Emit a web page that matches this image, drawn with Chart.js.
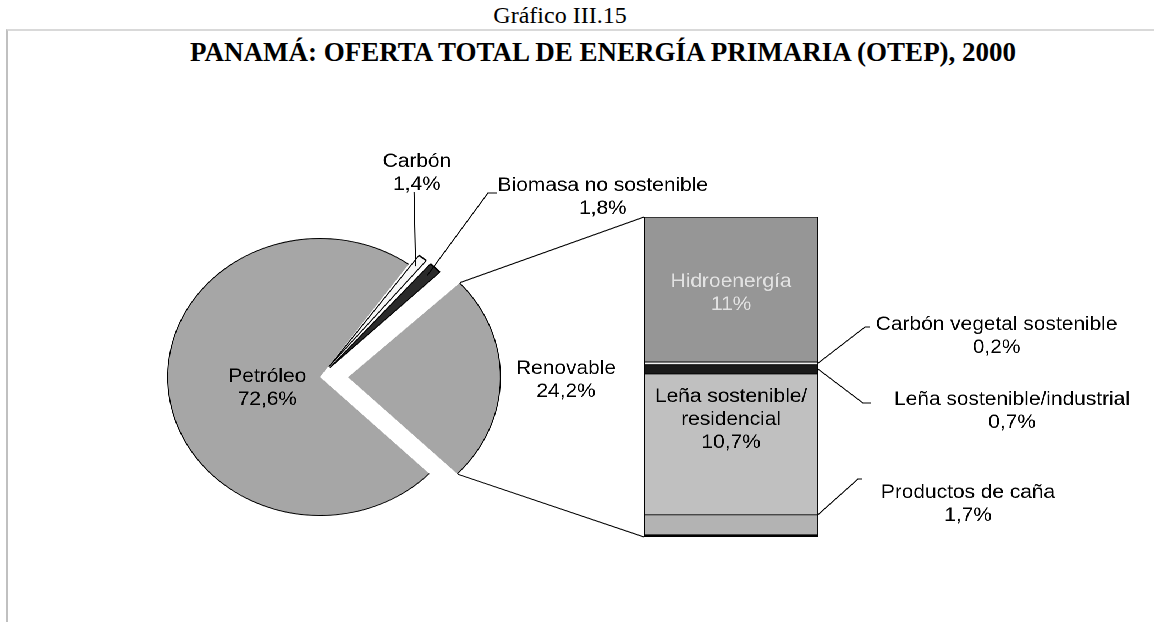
<!DOCTYPE html>
<html>
<head>
<meta charset="utf-8">
<script src="https://cdn.jsdelivr.net/npm/chart.js@4.4.0/dist/chart.umd.min.js"></script>
<style>
    html, body { margin: 0; padding: 0; background: #fff; }
    body { width: 1154px; height: 622px; position: relative; overflow: hidden; font-family: 'Liberation Serif', 'Times New Roman', serif; }
    #frame { position: absolute; left: 6px; top: 29px; right: 0; bottom: 0; border-left: 2px solid #c0c0c0; border-top: 2px solid #d9d9d9; }
    .title { position: absolute; color: #000; white-space: nowrap; text-align: center; }
    #sub { left: 360px; width: 400px; top: 3px; font-size: 24px; line-height: 24px; }
    #main { left: 190px; width: 800px; top: 39px; font-size: 27px; line-height: 27px; font-weight: bold; }
    /* the original picture is stretched sideways, so the chart stage is too */
    #stage { position: absolute; left: 0; top: 0; width: 1049px; height: 622px; transform: scaleX(1.1); transform-origin: 0 0; }
    #pieBox { position: absolute; left: 0; top: 0; width: 1049px; height: 622px; }
    #barBox { position: absolute; left: 560px; top: 0; width: 489px; height: 622px; }
</style>
</head>
<body>
<div id="frame"></div>
<div id="sub" class="title">Gráfico III.15</div>
<div id="main" class="title">PANAMÁ: OFERTA TOTAL DE ENERGÍA PRIMARIA (OTEP), 2000</div>
<div id="stage">
    <div id="pieBox"><canvas id="pie"></canvas></div>
    <div id="barBox"><canvas id="bar"></canvas></div>
</div>
<script>
// pie: share of total primary supply (%)
const pieLabels = ['Petróleo', 'Carbón', 'Biomasa no sostenible', 'Renovable'];
const pieValues = [72.6, 1.4, 1.8, 24.2];

// bar: breakdown of "Renovable", bottom to top (%)
const barLabels = ['Productos de caña', 'Leña sostenible/\nresidencial', 'Leña sostenible/industrial', 'Carbón vegetal sostenible', 'Hidroenergía'];
const barValues = [1.7, 10.7, 0.7, 0.2, 11];

const pieColors = ['#a6a6a6', '#f7f7f7', '#2a2a2a', '#a6a6a6'];
const pieOffsets = [0, 52, 52, 102];
const barColors = ['#b3b3b3', '#c0c0c0', '#1a1a1a', '#f2f2f2', '#969696'];

const FONT = '19px "Liberation Sans", Arial, sans-serif';
const LINE = 23;

function pct(v) {
    return (Number.isInteger(v) ? String(v) : v.toFixed(1).replace('.', ',')) + '%';
}

function textBlock(ctx, lines, x, y, color) {
    ctx.save();
    ctx.font = FONT;
    ctx.fillStyle = color || '#000';
    ctx.textAlign = 'center';
    ctx.textBaseline = 'middle';
    lines.forEach((t, k) => ctx.fillText(t, x, y + k * LINE));
    ctx.restore();
}

function polyline(ctx, pts) {
    ctx.save();
    ctx.strokeStyle = '#000';
    ctx.lineWidth = 1;
    ctx.beginPath();
    pts.forEach((p, k) => k ? ctx.lineTo(p[0], p[1]) : ctx.moveTo(p[0], p[1]));
    ctx.stroke();
    ctx.restore();
}

// where an exploded arc really sits (v4 moves it by offset / 4)
function arcShift(arc) {
    const t = (arc.options.offset || 0) / 4;
    const mid = (arc.startAngle + arc.endAngle) / 2;
    return { x: arc.x + Math.cos(mid) * t, y: arc.y + Math.sin(mid) * t, mid: mid };
}

function arcPoint(arc, angle, r) {
    const c = arcShift(arc);
    return [c.x + Math.cos(angle) * r, c.y + Math.sin(angle) * r];
}

// bar labels and leader lines
const barText = {
    id: 'barText',
    afterDraw(chart) {
        const ctx = chart.ctx;
        const seg = barLabels.map((n, i) => chart.getDatasetMeta(i).data[0]);
        const right = seg[0].x + seg[0].width / 2;

        textBlock(ctx, [barLabels[4], pct(barValues[4])], seg[4].x, seg[4].y + 65, '#e2e2e2');
        textBlock(ctx, barLabels[1].split('\n').concat(pct(barValues[1])), seg[1].x, seg[1].y + 23);

        const cv = (seg[3].y + seg[3].base) / 2;
        polyline(ctx, [[right, cv], [226.4, 327], [230.9, 327]]);
        textBlock(ctx, [barLabels[3], pct(barValues[3])], 346, 325);

        const li = (seg[2].y + seg[2].base) / 2;
        polyline(ctx, [[right, li], [224.5, 403], [231.8, 403]]);
        textBlock(ctx, [barLabels[2], pct(barValues[2])], 360, 400);

        polyline(ctx, [[right, seg[0].y], [220, 479], [223.6, 479]]);
        textBlock(ctx, [barLabels[0], pct(barValues[0])], 320, 493);
    }
};

const barChart = new Chart(document.getElementById('bar'), {
    type: 'bar',
    data: {
        labels: ['Renovable'],
        datasets: barLabels.map((name, i) => ({
            label: name,
            data: [barValues[i]],
            backgroundColor: barColors[i],
            borderColor: '#000',
            borderWidth: i === 0 ? { top: 1, left: 1, right: 1, bottom: 3 } : { top: 1, left: 1, right: 1, bottom: 0 },
            borderSkipped: false,
            barPercentage: 1,
            categoryPercentage: 1
        }))
    },
    options: {
        responsive: true,
        maintainAspectRatio: false,
        animation: false,
        devicePixelRatio: 2,
        layout: { padding: { left: 25.5, right: 305.3, top: 217, bottom: 85 } },
        plugins: { legend: { display: false }, tooltip: { enabled: false } },
        scales: {
            x: { stacked: true, display: false },
            y: { stacked: true, display: false, min: 0, max: barValues.reduce((a, b) => a + b, 0) }
        }
    },
    plugins: [barText]
});

// keep exploded slices at the same radius as the rest
const pieFix = {
    id: 'pieFix',
    afterDatasetsUpdate(chart) {
        chart.data.datasets.forEach((d, i) => {
            chart.getDatasetMeta(i).data.forEach(arc => {
                const t = (arc.options.offset || 0) / 4;
                const fix = 1 - Math.sin(Math.min(Math.PI, arc.circumference || 0));
                arc.outerRadius -= t * fix;
                if (arc.innerRadius > 0) arc.innerRadius -= t * fix;
            });
        });
    }
};

// pie labels, leaders and the two lines to the bar
const pieText = {
    id: 'pieText',
    afterDraw(chart) {
        const ctx = chart.ctx;
        const arcs = chart.getDatasetMeta(0).data;
        const R = arcs[0].outerRadius;

        textBlock(ctx, [pieLabels[0], pct(pieValues[0])], 243, 377);
        textBlock(ctx, [pieLabels[3], pct(pieValues[3])], 514.5, 369);
        textBlock(ctx, [pieLabels[1], pct(pieValues[1])], 379, 162);
        textBlock(ctx, [pieLabels[2], pct(pieValues[2])], 548, 186);

        const c = arcShift(arcs[1]);
        polyline(ctx, [arcPoint(arcs[1], c.mid, R * 0.92), [376.4, 192]]);
        const b = arcShift(arcs[2]);
        polyline(ctx, [arcPoint(arcs[2], b.mid, R * 0.92), [443.6, 193], [451.8, 193]]);

        const ren = arcs[3];
        const box = document.getElementById('barBox').offsetLeft;
        const top = barChart.getDatasetMeta(4).data[0];
        const bottom = barChart.getDatasetMeta(0).data[0];
        polyline(ctx, [arcPoint(ren, ren.startAngle, R), [box + top.x - top.width / 2, top.y]]);
        polyline(ctx, [arcPoint(ren, ren.endAngle, R), [box + bottom.x - bottom.width / 2, bottom.base]]);
    }
};

const pieChart = new Chart(document.getElementById('pie'), {
    type: 'pie',
    data: {
        labels: pieLabels,
        datasets: [
            { data: pieValues, backgroundColor: '#000', borderWidth: 0, weight: 1, offset: pieOffsets },
            { data: pieValues, backgroundColor: pieColors, borderColor: '#000', borderWidth: [0, 1, 1, 0], weight: 138, offset: pieOffsets }
        ]
    },
    options: {
        responsive: true,
        maintainAspectRatio: false,
        animation: false,
        devicePixelRatio: 2,
        rotation: 134.2,
        radius: 139,
        layout: { padding: { left: 0, right: 467.2, top: 200, bottom: 68 } },
        plugins: { legend: { display: false }, tooltip: { enabled: false } }
    },
    plugins: [pieFix, pieText]
});
</script>
</body>
</html>
